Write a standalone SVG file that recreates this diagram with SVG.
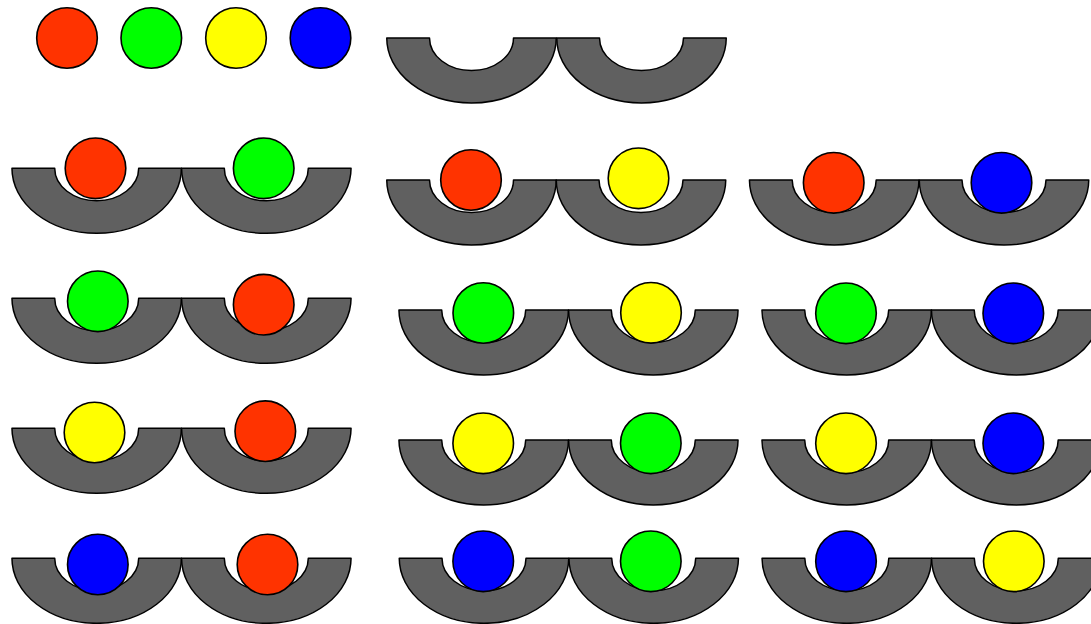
<svg xmlns="http://www.w3.org/2000/svg" xmlns:xlink="http://www.w3.org/1999/xlink" width="1091" height="624" viewBox="0 0 1091 624">
<style>
.cup{fill:#606060;stroke:#000;stroke-width:1.5;stroke-linejoin:round}
.ball{stroke:#000;stroke-width:1.6}
.r{fill:#ff3300}.g{fill:#00ff00}.y{fill:#ffff00}.b{fill:#0000ff}
</style>
<defs>
<path id="cup" class="cup" d="M-84.75,0 A84.75 65 0 0 0 84.75,0 L42,0 A42 32.5 0 0 1 -42,0 Z"/>
</defs>
<rect width="1091" height="624" fill="#fff"/>
<g id="balls-top">
<circle class="ball r" cx="67" cy="38" r="30.3"/>
<circle class="ball g" cx="151.3" cy="38" r="30.3"/>
<circle class="ball y" cx="236" cy="38" r="30.3"/>
<circle class="ball b" cx="320.5" cy="38" r="30.3"/>
</g>
<g id="cups-top">
<use xlink:href="#cup" x="471.5" y="38"/>
<use xlink:href="#cup" x="641.5" y="38"/>
</g>
<g id="row2-left">
<use xlink:href="#cup" x="96.7" y="168.3"/>
<use xlink:href="#cup" x="266.3" y="168.3"/>
<circle class="ball r" cx="95.5" cy="168.3" r="30.3"/>
<circle class="ball g" cx="263.7" cy="168.3" r="30.3"/>
</g>
<g id="row2-mid">
<use xlink:href="#cup" x="471.5" y="180"/>
<use xlink:href="#cup" x="641" y="180"/>
<circle class="ball r" cx="471" cy="180" r="30.3"/>
<circle class="ball y" cx="638.5" cy="178.3" r="30.3"/>
</g>
<g id="row2-right">
<use xlink:href="#cup" x="834.2" y="180"/>
<use xlink:href="#cup" x="1004" y="180"/>
<circle class="ball r" cx="833.7" cy="182.8" r="30.3"/>
<circle class="ball b" cx="1001.5" cy="182.8" r="30.3"/>
</g>
<g id="row3-left">
<use xlink:href="#cup" x="96.7" y="298.3"/>
<use xlink:href="#cup" x="266.3" y="298.3"/>
<circle class="ball g" cx="97.8" cy="301.3" r="30.3"/>
<circle class="ball r" cx="263.7" cy="304.7" r="30.3"/>
</g>
<g id="row3-mid">
<use xlink:href="#cup" x="483.7" y="310"/>
<use xlink:href="#cup" x="653.3" y="310"/>
<circle class="ball g" cx="483.3" cy="313" r="30.3"/>
<circle class="ball y" cx="651" cy="312.8" r="30.3"/>
</g>
<g id="row3-right">
<use xlink:href="#cup" x="846.7" y="310"/>
<use xlink:href="#cup" x="1016.2" y="310"/>
<circle class="ball g" cx="846" cy="313.3" r="30.3"/>
<circle class="ball b" cx="1013.3" cy="313.3" r="30.3"/>
</g>
<g id="row4-left">
<use xlink:href="#cup" x="96.7" y="428.3"/>
<use xlink:href="#cup" x="266.3" y="428.3"/>
<circle class="ball y" cx="94.5" cy="432.5" r="30.3"/>
<circle class="ball r" cx="265.3" cy="431.2" r="30.3"/>
</g>
<g id="row4-mid">
<use xlink:href="#cup" x="483.7" y="440"/>
<use xlink:href="#cup" x="653.3" y="440"/>
<circle class="ball y" cx="483.2" cy="443.3" r="30.3"/>
<circle class="ball g" cx="650.8" cy="443.3" r="30.3"/>
</g>
<g id="row4-right">
<use xlink:href="#cup" x="846.7" y="440"/>
<use xlink:href="#cup" x="1016.2" y="440"/>
<circle class="ball y" cx="846" cy="443.3" r="30.3"/>
<circle class="ball b" cx="1013.3" cy="443.3" r="30.3"/>
</g>
<g id="row5-left">
<use xlink:href="#cup" x="96.7" y="558.3"/>
<use xlink:href="#cup" x="266.3" y="558.3"/>
<circle class="ball b" cx="97.8" cy="564.5" r="30.3"/>
<circle class="ball r" cx="267.5" cy="564.5" r="30.3"/>
</g>
<g id="row5-mid">
<use xlink:href="#cup" x="484" y="558.3"/>
<use xlink:href="#cup" x="653.7" y="558.3"/>
<circle class="ball b" cx="483.2" cy="561.3" r="30.3"/>
<circle class="ball g" cx="650.8" cy="561.3" r="30.3"/>
</g>
<g id="row5-right">
<use xlink:href="#cup" x="846.8" y="558.3"/>
<use xlink:href="#cup" x="1016.3" y="558.3"/>
<circle class="ball b" cx="846" cy="561.3" r="30.3"/>
<circle class="ball y" cx="1013.8" cy="561.3" r="30.3"/>
</g>
</svg>
